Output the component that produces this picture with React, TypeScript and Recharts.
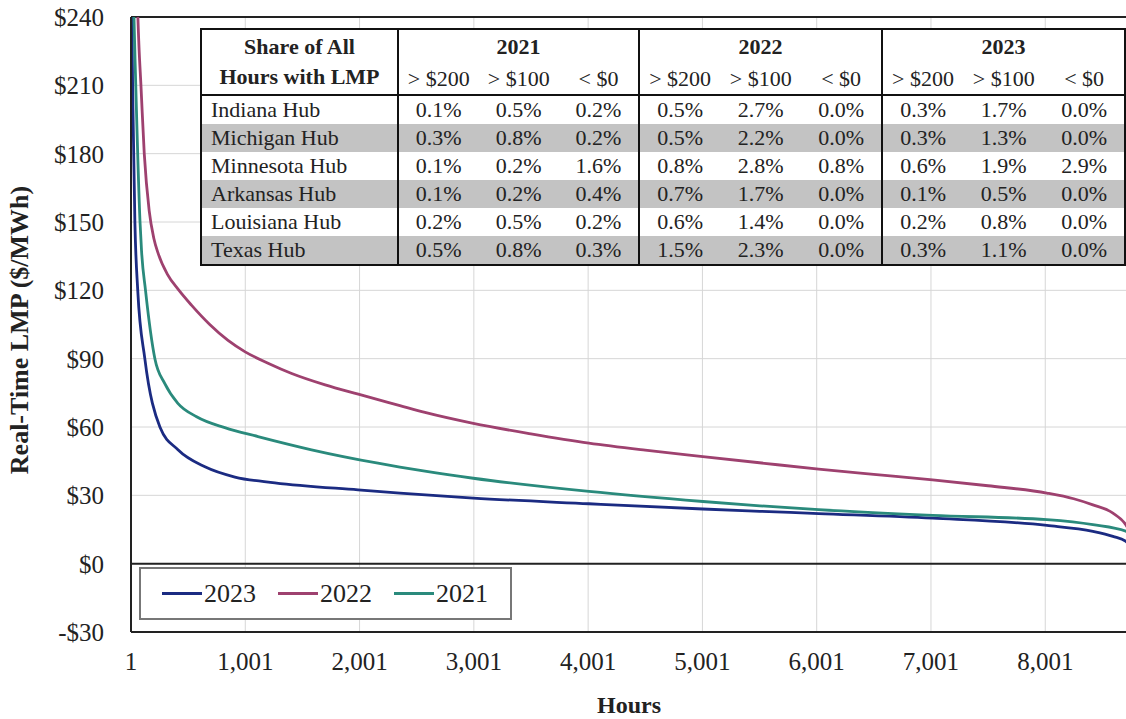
import { LineChart, Line, XAxis, YAxis, CartesianGrid, ReferenceLine } from "recharts"

// price duration curves (hour, $/MWh)
const hours2023 = [1, 10, 18, 35, 60, 122, 254, 412, 648, 910, 1260, 1987, 2354, 2996, 4008, 5005, 5504, 6018, 7015, 8015, 8418, 8593, 8707, 8760]
const lmp2023 = [450, 240, 200, 150, 120, 90, 60, 50, 42.5, 38, 35.5, 32.4, 31, 28.8, 26.3, 24, 23, 22, 20, 16.8, 14.2, 12, 9.8, 6]

const hours2022 = [1, 30, 50, 70, 88, 117, 160, 200, 240, 320, 416, 530, 690, 850, 1000, 1200, 1407, 1700, 1990, 2354, 2573, 2996, 3500, 4008, 4500, 5005, 5500, 6018, 6500, 7015, 7500, 8015, 8250, 8418, 8593, 8707, 8760]
const lmp2022 = [700, 320, 260, 228, 210, 180, 155, 143, 136, 127, 120.3, 113.5, 105, 98, 93, 88, 83.5, 78.5, 74.4, 69.4, 66.4, 61.6, 57, 52.9, 49.8, 47, 44.3, 41.5, 39.2, 36.8, 34.2, 31, 28.5, 25.8, 22.2, 17, 12]

const hours2021 = [1, 10, 27, 40, 80, 93, 128, 210, 297, 411, 575, 822, 1112, 1581, 2162, 2354, 2573, 2996, 4008, 5005, 5504, 6018, 7015, 8015, 8418, 8707, 8760]
const lmp2021 = [500, 300, 240, 215, 150, 137.5, 120, 90, 79, 70.4, 64.5, 59.7, 55.8, 50, 44.1, 42.4, 40.6, 37.5, 31.7, 27.3, 25.4, 23.7, 21.2, 19.3, 17.1, 14.2, 10]

const xTicks = [1, 1001, 2001, 3001, 4001, 5001, 6001, 7001, 8001]
const yTicks = [-30, 0, 30, 60, 90, 120, 150, 180, 210, 240]

// table of shares
const hubs = ["Indiana Hub", "Michigan Hub", "Minnesota Hub", "Arkansas Hub", "Louisiana Hub", "Texas Hub"]
const tableYears = ["2021", "2022", "2023"]
const thresholds = ["> $200", "> $100", "< $0"]
const shares2021 = [
  ["0.1%", "0.5%", "0.2%"],
  ["0.3%", "0.8%", "0.2%"],
  ["0.1%", "0.2%", "1.6%"],
  ["0.1%", "0.2%", "0.4%"],
  ["0.2%", "0.5%", "0.2%"],
  ["0.5%", "0.8%", "0.3%"],
]
const shares2022 = [
  ["0.5%", "2.7%", "0.0%"],
  ["0.5%", "2.2%", "0.0%"],
  ["0.8%", "2.8%", "0.8%"],
  ["0.7%", "1.7%", "0.0%"],
  ["0.6%", "1.4%", "0.0%"],
  ["1.5%", "2.3%", "0.0%"],
]
const shares2023 = [
  ["0.3%", "1.7%", "0.0%"],
  ["0.3%", "1.3%", "0.0%"],
  ["0.6%", "1.9%", "2.9%"],
  ["0.1%", "0.5%", "0.0%"],
  ["0.2%", "0.8%", "0.0%"],
  ["0.3%", "1.1%", "0.0%"],
]

const SERIES = [
  { name: "2023", color: "#1b2b82", data: hours2023.map((h, i) => ({ hour: h, lmp: lmp2023[i] })) },
  { name: "2022", color: "#9e416f", data: hours2022.map((h, i) => ({ hour: h, lmp: lmp2022[i] })) },
  { name: "2021", color: "#2a8a7c", data: hours2021.map((h, i) => ({ hour: h, lmp: lmp2021[i] })) },
]

const FONT = "'Liberation Serif', 'Times New Roman', serif"
const TEXT = "#222"

const fmtDollar = (v: number) => (v < 0 ? `-$${-v}` : `$${v}`)
const fmtHour = (v: number) => v.toLocaleString("en-US")

function ShareTable() {
  const groups = [shares2021, shares2022, shares2023]
  const groupWidths = [243, 245, 245]
  const cell: React.CSSProperties = { padding: 0, textAlign: "center", height: 28, whiteSpace: "nowrap" }
  const sep = "2px solid #111"
  return (
    <table
      style={{
        position: "absolute",
        left: 200,
        top: 28,
        borderCollapse: "collapse",
        background: "#fff",
        fontFamily: FONT,
        fontSize: 22,
        lineHeight: "26px",
        color: TEXT,
        border: sep,
        tableLayout: "fixed",
      }}
    >
      <colgroup>
        <col style={{ width: 198 }} />
        {groupWidths.map((w, g) =>
          [0, 1, 2].map((k) => <col key={`${g}-${k}`} style={{ width: w / 3 }} />)
        )}
      </colgroup>
      <thead>
        <tr>
          <th rowSpan={2} style={{ ...cell, fontWeight: "bold", lineHeight: "30px", borderRight: sep, borderBottom: sep }}>
            Share of All
            <br />
            Hours with LMP
          </th>
          {tableYears.map((y) => (
            <th key={y} colSpan={3} style={{ ...cell, height: 34, fontWeight: "bold", borderRight: sep }}>
              {y}
            </th>
          ))}
        </tr>
        <tr>
          {tableYears.map((y) =>
            thresholds.map((t, k) => (
              <th
                key={`${y}${t}`}
                style={{ ...cell, height: 30, fontWeight: "normal", borderBottom: sep, borderRight: k === 2 ? sep : undefined }}
              >
                {t}
              </th>
            ))
          )}
        </tr>
      </thead>
      <tbody>
        {hubs.map((hub, r) => (
          <tr key={hub} style={{ background: r % 2 === 1 ? "#c3c3c3" : "#fff" }}>
            <td style={{ ...cell, textAlign: "left", paddingLeft: 9, borderRight: sep }}>{hub}</td>
            {groups.map((rows, g) =>
              rows[r].map((v, k) => (
                <td key={`${g}-${k}`} style={{ ...cell, borderRight: k === 2 ? sep : undefined }}>
                  {v}
                </td>
              ))
            )}
          </tr>
        ))}
      </tbody>
    </table>
  )
}

function LegendBox() {
  return (
    <div
      style={{
        position: "absolute",
        left: 139,
        top: 567,
        width: 373,
        height: 53,
        boxSizing: "border-box",
        border: "2px solid #777",
        background: "#fff",
        display: "flex",
        alignItems: "center",
        paddingLeft: 21,
        fontFamily: FONT,
        fontSize: 26,
        color: TEXT,
      }}
    >
      {SERIES.map((s) => (
        <div key={s.name} style={{ display: "flex", alignItems: "center", marginRight: 22 }}>
          <span style={{ display: "inline-block", width: 40, height: 3, background: s.color, marginRight: 2 }} />
          <span>{s.name}</span>
        </div>
      ))}
    </div>
  )
}

export default function App() {
  return (
    <div
      style={{
        position: "fixed",
        left: 0,
        top: 0,
        width: 1126,
        height: 719,
        overflow: "hidden",
        background: "#fff",
      }}
    >
      <LineChart width={1140} height={719} margin={{ top: 17, right: 8, left: 0, bottom: 0 }}>
        <CartesianGrid stroke="#d6d6d6" strokeWidth={1} />
        <XAxis
          dataKey="hour"
          type="number"
          domain={[1, 8760]}
          ticks={xTicks}
          tickFormatter={fmtHour}
          height={87}
          tickSize={0}
          tickMargin={20}
          stroke="#222"
          strokeWidth={2}
          tick={{ fontFamily: FONT, fontSize: 25, fill: TEXT }}
          allowDataOverflow
        />
        <YAxis
          type="number"
          domain={[-30, 240]}
          ticks={yTicks}
          tickFormatter={fmtDollar}
          width={131}
          tickSize={0}
          tickMargin={27}
          stroke="#222"
          strokeWidth={2}
          tick={{ fontFamily: FONT, fontSize: 25, fill: TEXT }}
          allowDataOverflow
        />
        <ReferenceLine y={0} stroke="#222" strokeWidth={2} />
        <ReferenceLine y={240} stroke="#222" strokeWidth={2} />
        {SERIES.map((s) => (
          <Line
            key={s.name}
            data={s.data}
            dataKey="lmp"
            name={s.name}
            type="monotone"
            stroke={s.color}
            strokeWidth={2.8}
            dot={false}
            isAnimationActive={false}
          />
        ))}
      </LineChart>
      <ShareTable />
      <LegendBox />
      <div
        style={{
          position: "absolute",
          left: 20,
          top: 330,
          transform: "translate(-50%, -50%) rotate(-90deg)",
          whiteSpace: "nowrap",
          fontFamily: FONT,
          fontWeight: "bold",
          fontSize: 26,
          color: TEXT,
        }}
      >
        Real-Time LMP ($/MWh)
      </div>
      <div
        style={{
          position: "absolute",
          left: 629,
          top: 705,
          transform: "translate(-50%, -50%)",
          fontFamily: FONT,
          fontWeight: "bold",
          fontSize: 24,
          color: TEXT,
        }}
      >
        Hours
      </div>
    </div>
  )
}
